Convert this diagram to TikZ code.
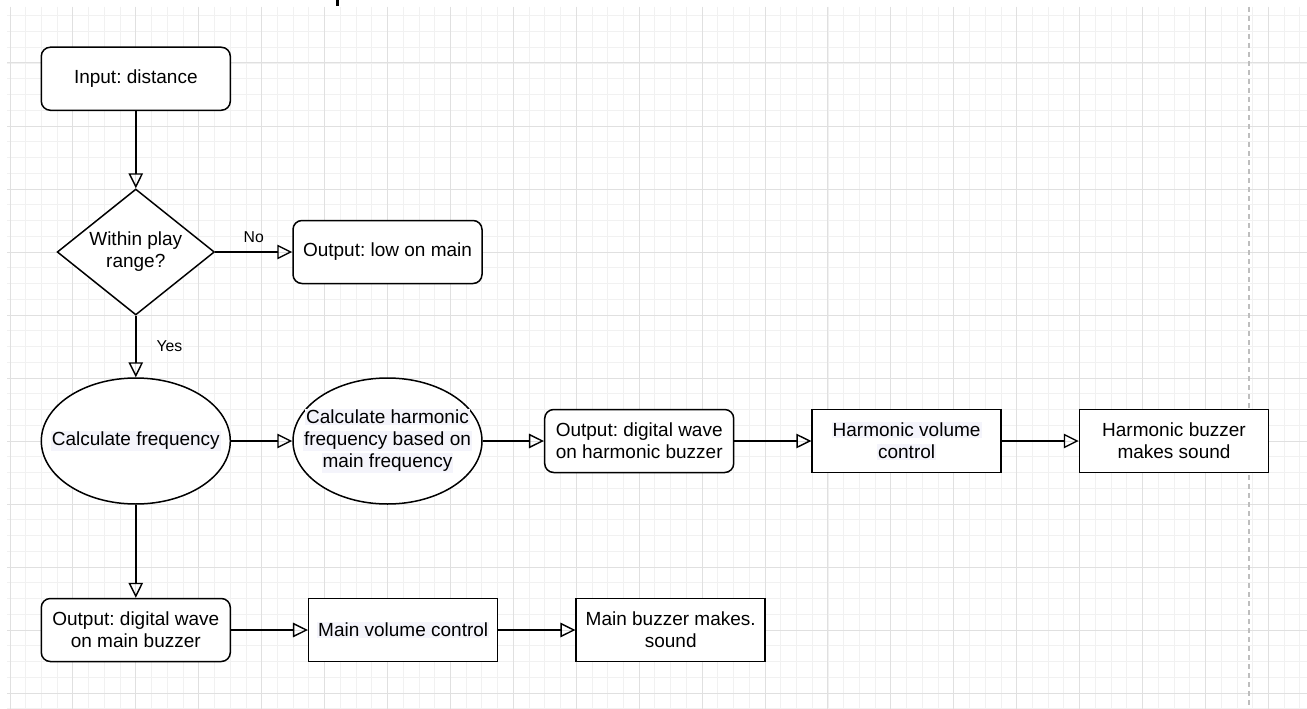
\documentclass[tikz,border=0pt]{standalone}
\usepackage{fontspec}
\setmainfont{Liberation Sans}
\usetikzlibrary{shapes.geometric,arrows.meta}
\frenchspacing
\definecolor{hlc}{RGB}{244,244,251}
\definecolor{minorc}{RGB}{241,241,241}
\definecolor{majorc}{RGB}{224,224,224}
\definecolor{dashc}{RGB}{190,190,190}
\newcommand{\hl}[1]{{\setlength{\fboxsep}{1pt}\colorbox{hlc}{#1}}}
\tikzset{
  box/.style={draw, line width=1.5pt, fill=white, minimum width=189pt, minimum height=63pt, inner sep=0pt, align=center, font=\fontsize{19}{22}\selectfont},
  rbox/.style={box, rounded corners=9pt},
  ell/.style={draw, line width=1.5pt, fill=white, ellipse, minimum width=189pt, minimum height=126pt, inner sep=0pt},
  dia/.style={draw, line width=1.5pt, fill=white, diamond, shape aspect=1.25, minimum width=157.3pt, minimum height=126pt, inner sep=0pt},
  txt/.style={align=center, inner sep=0pt, font=\fontsize{19}{22}\selectfont},
  lbl/.style={inner sep=0pt, font=\fontsize{15.75}{18}\selectfont},
  arr/.style={line width=1.4pt, -{Triangle[open, length=15pt, width=14.5pt, line width=1.4pt]}},
}
\begin{document}
\begin{tikzpicture}[x=1pt,y=-1pt]
\useasboundingbox (0,0) rectangle (1307,709);
\fill[white] (0,0) rectangle (1307,709);
% grid
\foreach \i in {0,...,82} {\draw[minorc, line width=0.9pt] ({10+15.73*\i},7) -- ({10+15.73*\i},709);}
\foreach \j in {1,...,45} {\draw[minorc, line width=0.9pt] (7,{15.75*\j}) -- (1307,{15.75*\j});}
\foreach \i in {0,...,20} {\draw[majorc, line width=1pt] ({10+62.92*\i},7) -- ({10+62.92*\i},709);}
\foreach \j in {1,...,11} {\draw[majorc, line width=1pt] (7,{63*\j}) -- (1307,{63*\j});}
\draw[dashc, line width=1.3pt, dash pattern=on 5pt off 4pt] (1249,7) -- (1249,709);
% title fragment
\fill[black] (335.5,0) rectangle (338.5,6);

% nodes
\node[rbox] (in) at (135.8,78.75) {Input: distance};
\node[dia] (dec) at (135.8,252) {};
\node[txt] (dect) at (135.8,252) {Within play\\range?};
\node[rbox] (low) at (387.5,252) {Output: low on main};
\node[ell] (cf) at (135.8,441) {};
\node[txt] (cft) at (135.8,441) {\hl{Calculate frequency}};
\node[ell] (ch) at (387.5,441) {};
\node[txt] (cht) at (387.5,441) {\hl{Calculate harmonic}\\\hl{frequency based on}\\\hl{main frequency}};
\node[rbox] (oh) at (639.2,441) {Output: digital wave\\on harmonic buzzer};
\node[box] (hv) at (906.6,441) {\hl{Harmonic volume}\\\hl{control}};
\node[box] (hb) at (1174,441) {Harmonic buzzer\\makes sound};
\node[rbox] (om) at (135.8,630) {Output: digital wave\\on main buzzer};
\node[box] (mv) at (403.2,630) {\hl{Main volume control}};
\node[box] (mb) at (670.7,630) {Main buzzer makes.\\sound};

% connectors
\draw[arr] (in.south) -- (dec.north);
\draw[arr] (dec.east) -- node[lbl, pos=0.5, above=9pt] (no) {No} (low.west);
\draw[arr] (dec.south) -- node[lbl, pos=0.5, right=20pt] (yes) {Yes} (cf.north);
\draw[arr] (cf.east) -- (ch.west);
\draw[arr] (ch.east) -- (oh.west);
\draw[arr] (oh.east) -- (hv.west);
\draw[arr] (hv.east) -- (hb.west);
\draw[arr] (cf.south) -- (om.north);
\draw[arr] (om.east) -- (mv.west);
\draw[arr] (mv.east) -- (mb.west);
\end{tikzpicture}
\end{document}
